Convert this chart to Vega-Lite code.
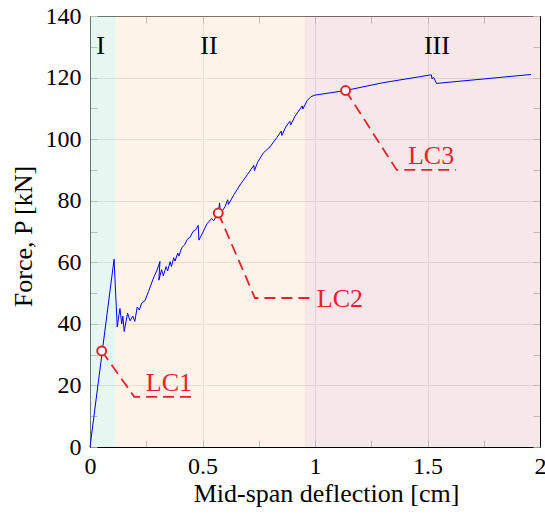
{
  "$schema": "https://vega.github.io/schema/vega-lite/v6.json",
  "width": 450,
  "height": 431,
  "autosize": {"type": "none"},
  "padding": {"left": 90, "top": 16, "right": 5, "bottom": 71},
  "background": "white",
  "config": {
    "view": {"stroke": "black", "strokeWidth": 1},
    "font": "Liberation Serif",
    "axis": {
      "labelFont": "Liberation Serif",
      "labelFontSize": 24,
      "labelColor": "black",
      "titleFont": "Liberation Serif",
      "titleFontSize": 26,
      "titleFontWeight": "normal",
      "titleColor": "black",
      "tickSize": -7,
      "tickColor": "#999999",
      "tickWidth": 1,
      "domainColor": "black",
      "domainWidth": 1,
      "gridColor": "#d4d4d4",
      "gridWidth": 1,
      "labelFlush": false,
      "labelOverlap": false
    }
  },
  "datasets": {
    "regions": [
      {"region": "I", "start": 0, "end": 0.112},
      {"region": "II", "start": 0.112, "end": 0.955},
      {"region": "III", "start": 0.955, "end": 2}
    ],
    "curve": [
      {"i": 0, "d": 0, "P": 0},
      {"i": 1, "d": 0.107, "P": 61},
      {"i": 2, "d": 0.121, "P": 39},
      {"i": 3, "d": 0.133, "P": 45},
      {"i": 4, "d": 0.141, "P": 40},
      {"i": 5, "d": 0.146, "P": 42.5},
      {"i": 6, "d": 0.152, "P": 37.5},
      {"i": 7, "d": 0.167, "P": 43.5},
      {"i": 8, "d": 0.178, "P": 41},
      {"i": 9, "d": 0.19, "P": 42.5},
      {"i": 10, "d": 0.199, "P": 40.8},
      {"i": 11, "d": 0.21, "P": 45.5},
      {"i": 12, "d": 0.219, "P": 44.5},
      {"i": 13, "d": 0.23, "P": 46.8},
      {"i": 14, "d": 0.244, "P": 47.5},
      {"i": 15, "d": 0.26, "P": 50.5},
      {"i": 16, "d": 0.28, "P": 54.5},
      {"i": 17, "d": 0.298, "P": 57.5},
      {"i": 18, "d": 0.311, "P": 60.3},
      {"i": 19, "d": 0.306, "P": 54.2},
      {"i": 20, "d": 0.318, "P": 57.6},
      {"i": 21, "d": 0.326, "P": 55.6},
      {"i": 22, "d": 0.338, "P": 58.6},
      {"i": 23, "d": 0.345, "P": 57.2},
      {"i": 24, "d": 0.356, "P": 60.2},
      {"i": 25, "d": 0.362, "P": 58.6},
      {"i": 26, "d": 0.372, "P": 61.5},
      {"i": 27, "d": 0.378, "P": 60.4},
      {"i": 28, "d": 0.39, "P": 63},
      {"i": 29, "d": 0.395, "P": 62},
      {"i": 30, "d": 0.408, "P": 64.8},
      {"i": 31, "d": 0.42, "P": 65.6},
      {"i": 32, "d": 0.432, "P": 67.4},
      {"i": 33, "d": 0.445, "P": 68.2},
      {"i": 34, "d": 0.458, "P": 70},
      {"i": 35, "d": 0.47, "P": 70.6},
      {"i": 36, "d": 0.481, "P": 72},
      {"i": 37, "d": 0.484, "P": 67.2},
      {"i": 38, "d": 0.5, "P": 69.5},
      {"i": 39, "d": 0.52, "P": 72.5},
      {"i": 40, "d": 0.54, "P": 74.2},
      {"i": 41, "d": 0.55, "P": 73.5},
      {"i": 42, "d": 0.57, "P": 76},
      {"i": 43, "d": 0.576, "P": 79.3},
      {"i": 44, "d": 0.58, "P": 75.8},
      {"i": 45, "d": 0.6, "P": 78},
      {"i": 46, "d": 0.612, "P": 80.3},
      {"i": 47, "d": 0.615, "P": 78.8},
      {"i": 48, "d": 0.64, "P": 82},
      {"i": 49, "d": 0.67, "P": 85.5},
      {"i": 50, "d": 0.7, "P": 88.5},
      {"i": 51, "d": 0.728, "P": 91.5},
      {"i": 52, "d": 0.731, "P": 89.8},
      {"i": 53, "d": 0.745, "P": 92.5},
      {"i": 54, "d": 0.77, "P": 95.5},
      {"i": 55, "d": 0.8, "P": 97.5},
      {"i": 56, "d": 0.83, "P": 100.5},
      {"i": 57, "d": 0.85, "P": 102.6},
      {"i": 58, "d": 0.853, "P": 101.2},
      {"i": 59, "d": 0.87, "P": 104},
      {"i": 60, "d": 0.888, "P": 105.8},
      {"i": 61, "d": 0.892, "P": 104.6},
      {"i": 62, "d": 0.91, "P": 107.3},
      {"i": 63, "d": 0.943, "P": 110.8},
      {"i": 64, "d": 0.946, "P": 109.8},
      {"i": 65, "d": 0.965, "P": 112.5},
      {"i": 66, "d": 0.982, "P": 113.8},
      {"i": 67, "d": 1.0, "P": 114.3},
      {"i": 68, "d": 1.136, "P": 115.8},
      {"i": 69, "d": 1.3, "P": 118.3},
      {"i": 70, "d": 1.517, "P": 120.9},
      {"i": 71, "d": 1.52, "P": 119.6},
      {"i": 72, "d": 1.527, "P": 120.1},
      {"i": 73, "d": 1.54, "P": 118.1},
      {"i": 74, "d": 1.96, "P": 121}
    ],
    "leaders": [
      {"lc": "LC1", "i": 0, "d": 0.052, "P": 31.2},
      {"lc": "LC1", "i": 1, "d": 0.197, "P": 16.3},
      {"lc": "LC1", "i": 2, "d": 0.449, "P": 16.3},
      {"lc": "LC2", "i": 0, "d": 0.57, "P": 76},
      {"lc": "LC2", "i": 1, "d": 0.733, "P": 48.4},
      {"lc": "LC2", "i": 2, "d": 0.99, "P": 48.4},
      {"lc": "LC3", "i": 0, "d": 1.136, "P": 115.8},
      {"lc": "LC3", "i": 1, "d": 1.363, "P": 90},
      {"lc": "LC3", "i": 2, "d": 1.627, "P": 90}
    ],
    "markers": [
      {"lc": "LC1", "d": 0.052, "P": 31.2},
      {"lc": "LC2", "d": 0.57, "P": 76},
      {"lc": "LC3", "d": 1.136, "P": 115.8}
    ],
    "lcLabels": [
      {"lc": "LC1", "d": 0.351, "P": 18.3},
      {"lc": "LC2", "d": 1.111, "P": 45.6},
      {"lc": "LC3", "d": 1.516, "P": 91.8}
    ],
    "regionLabels": [
      {"region": "I", "d": 0.047, "P": 127.6},
      {"region": "II", "d": 0.529, "P": 127.6},
      {"region": "III", "d": 1.542, "P": 127.6}
    ]
  },
  "resolve": {"axis": {"x": "independent", "y": "independent"}},
  "layer": [
    {
      "data": {"name": "regions"},
      "mark": {"type": "rect", "opacity": 0.5},
      "encoding": {
        "x": {
          "field": "start", "type": "quantitative",
          "scale": {"domain": [0, 2], "nice": false, "zero": false},
          "axis": {
            "orient": "bottom",
            "values": [0, 0.25, 0.5, 0.75, 1, 1.25, 1.5, 1.75, 2],
            "labelExpr": "datum.value % 0.5 === 0 ? toString(datum.value) : ''",
            "labelFont": "Liberation Serif",
            "labelFontSize": 24,
            "labelPadding": 14,
            "title": "Mid-span deflection [cm]",
            "titlePadding": 2,
            "titleX": 236,
            "grid": true,
            "gridOpacity": {"condition": {"test": "datum.value % 0.5 === 0", "value": 1}, "value": 0}
          }
        },
        "x2": {"field": "end"},
        "y": {
          "datum": 0, "type": "quantitative",
          "scale": {"domain": [0, 140], "nice": false},
          "axis": {
            "orient": "left",
            "values": [0, 10, 20, 30, 40, 50, 60, 70, 80, 90, 100, 110, 120, 130, 140],
            "labelExpr": "datum.value % 20 === 0 ? toString(datum.value) : ''",
            "labelFont": "Liberation Serif",
            "labelFontSize": 24,
            "labelPadding": 16,
            "title": "Force, P [kN]",
            "titlePadding": 9,
            "titleY": 220,
            "grid": true,
            "gridOpacity": {"condition": {"test": "datum.value % 20 === 0", "value": 1}, "value": 0}
          }
        },
        "y2": {"datum": 140},
        "color": {
          "field": "region", "type": "nominal",
          "scale": {"domain": ["I", "II", "III"], "range": ["#cdede1", "#fbe7d3", "#edd1d1"]},
          "legend": null
        }
      }
    },
    {
      "data": {"name": "curve"},
      "mark": {"type": "line", "color": "#0000ff", "strokeWidth": 1},
      "encoding": {
        "x": {
          "field": "d", "type": "quantitative",
          "scale": {"domain": [0, 2], "nice": false, "zero": false},
          "axis": {
            "orient": "top",
            "values": [0, 0.25, 0.5, 0.75, 1, 1.25, 1.5, 1.75, 2],
            "labels": false, "title": null, "grid": false
          }
        },
        "y": {
          "field": "P", "type": "quantitative",
          "scale": {"domain": [0, 140], "nice": false},
          "axis": {
            "orient": "right",
            "values": [0, 10, 20, 30, 40, 50, 60, 70, 80, 90, 100, 110, 120, 130, 140],
            "labels": false, "title": null, "grid": false
          }
        },
        "order": {"field": "i", "type": "quantitative"}
      }
    },
    {
      "data": {"name": "leaders"},
      "mark": {"type": "line", "color": "#e8212e", "strokeWidth": 1.8, "strokeDash": [11, 6]},
      "encoding": {
        "x": {"field": "d", "type": "quantitative", "axis": null},
        "y": {"field": "P", "type": "quantitative", "axis": null},
        "detail": {"field": "lc"},
        "order": {"field": "i", "type": "quantitative"}
      }
    },
    {
      "data": {"name": "markers"},
      "mark": {"type": "point", "shape": "circle", "filled": true, "fill": "white", "stroke": "#e8212e", "strokeWidth": 2, "size": 80, "opacity": 1},
      "encoding": {
        "x": {"field": "d", "type": "quantitative", "axis": null},
        "y": {"field": "P", "type": "quantitative", "axis": null}
      }
    },
    {
      "data": {"name": "lcLabels"},
      "mark": {"type": "text", "color": "#e8212e", "font": "Liberation Serif", "fontSize": 26, "align": "center", "baseline": "alphabetic"},
      "encoding": {
        "x": {"field": "d", "type": "quantitative", "axis": null},
        "y": {"field": "P", "type": "quantitative", "axis": null},
        "text": {"field": "lc"}
      }
    },
    {
      "data": {"name": "regionLabels"},
      "mark": {"type": "text", "color": "black", "font": "Liberation Serif", "fontSize": 26, "align": "center", "baseline": "alphabetic"},
      "encoding": {
        "x": {"field": "d", "type": "quantitative", "axis": null},
        "y": {"field": "P", "type": "quantitative", "axis": null},
        "text": {"field": "region"}
      }
    }
  ]
}
